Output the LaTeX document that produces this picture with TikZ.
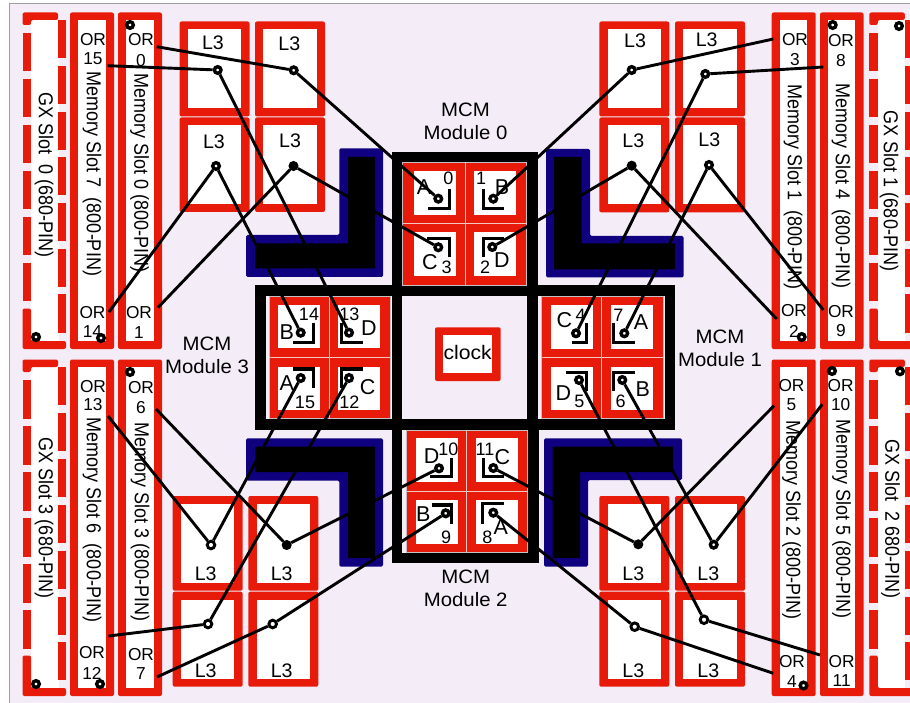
\documentclass[tikz,border=0pt]{standalone}
\usepackage{fontspec}
\usepackage{graphicx}
\setmainfont{Liberation Sans}
\definecolor{slotred}{HTML}{E81A0A}
\definecolor{lshape}{HTML}{0F007F}
\definecolor{pagebg}{HTML}{F4EDF8}
\definecolor{rim}{HTML}{C4C0C4}
\definecolor{sep}{HTML}{F0C8C0}
\newcommand\fsz[1]{\fontsize{#1}{#1}\selectfont}
\newcommand\sxx[2]{\scalebox{#1}[1]{#2}}
\newcommand\vtxt[1]{\scalebox{1}[1.12]{#1}}
\tikzset{
  orlab/.style={inner sep=0pt,font=\fsz{17.3}},
  lthree/.style={inner sep=0pt,font=\fsz{19.6}},
  modlab/.style={inner sep=0pt,font=\fsz{19.4}},
  chipletter/.style={inner sep=0pt,font=\fsz{21.5}},
  chipnum/.style={inner sep=0pt,font=\fsz{18}},
  slotlab/.style={inner sep=0pt,rotate=-90,font=\fsz{18}},
  ring/.style={circle,draw=black,fill=white,line width=3.4pt,minimum size=6.6pt,inner sep=0pt},
  ringb/.style={circle,draw=black,fill=white,line width=2.9pt,minimum size=7.6pt,inner sep=0pt},
  solid dot/.style={circle,draw=black,fill=black,line width=1pt,minimum size=9pt,inner sep=0pt},
  wire/.style={draw=black,line width=2.9pt},
  bracket/.style={draw=black,line width=3.4pt,miter limit=10},
  frame/.style={draw=black,line width=10.6pt},
  redfill/.style={fill=slotred,rounded corners=2pt},
  whitefill/.style={fill=white},
}
\newcommand\redbox[6]{%
  \fill[redfill] (#1,#2) rectangle (#3,#4);
  \fill[whitefill] (#1+#5,#2+#6) rectangle (#3-#5,#4-#6);
}
% dashed GX slot, origin = outer top-left
\newcommand\gxslot[2]{%
  \begin{scope}[shift={(#1,#2)}]
    \fill[whitefill] (8.5,7.5) rectangle (36,328.5);
    \fill[redfill] (0,0) -- (35.5,0) -- (35.5,7.5) -- (8.5,7.5) -- (8.5,12.5) -- (0,12.5) -- cycle;
    \foreach \a in {20.5,66.5,112.5,158.5,204.5,250.5}
      \fill[slotred] (0,\a) rectangle (8.5,\a+38.5);
    \fill[redfill] (0,296) -- (8.5,296) -- (8.5,328.5) -- (43.5,328.5) -- (43.5,336.5) -- (0,336.5) -- cycle;
    \foreach \a in {7.5,53.5,99.5,145,191,237,282}
      \fill[slotred] (35.5,\a) rectangle (43.5,\a+38);
  \end{scope}
}
\begin{document}
\begin{tikzpicture}[x=1pt,y=-1pt]
\useasboundingbox (0,0) rectangle (910,703);
\begin{scope}
\clip (0,0) rectangle (910,703);
% page
\fill[pagebg] (9.3,4) rectangle (911,704);
\draw[gray!75,line width=1pt] (9.3,704) -- (9.3,4) -- (911,4);
% GX slots
\gxslot{22.5}{12.5}
\gxslot{22.5}{359.5}
\gxslot{869.3}{12.5}
\gxslot{869.3}{359.5}
% memory slots
\foreach \xa/\xb in {70/114,118/162,771.7/815.7,820/863.5}{
  \redbox{\xa}{12.5}{\xb}{349}{8.4}{7.8}
  \redbox{\xa}{359.5}{\xb}{696}{8.4}{7.8}
}
% L3 boxes
\foreach \xa/\xb/\ya/\yb in {
  179.5/249.5/21.5/116.5, 179.5/249.5/117.5/212,
  255/325/21.5/116.5, 255/325/117.5/212,
  599.3/669.3/21.5/116.5, 599.3/669.3/117.5/212.3,
  675/745/21.5/116.5, 675/745/117.5/212.3,
  172.7/242.7/496/590.7, 172.7/242.7/591.7/686.7,
  248.3/318.3/496/590.7, 248.3/318.3/591.7/686.7,
  599.3/669.3/496/590.7, 599.3/669.3/591.7/686.7,
  675/745/496/590.7, 675/745/591.7/686.7}{
  \redbox{\xa}{\ya}{\xb}{\yb}{8.3}{8}
}
% L shapes
\fill[lshape,rounded corners=1.5pt] (339.3,148.3) -- (383,148.3) -- (383,277) -- (246,277) -- (246,235) -- (339.3,235) -- cycle;
\fill[black] (348,157) -- (375,157) -- (375,268.5) -- (255,268.5) -- (255,243.3) -- (348,243.3) -- cycle;
\fill[lshape,rounded corners=1.5pt] (546,149) -- (590,149) -- (590,236) -- (683.5,236) -- (683.5,277.5) -- (546,277.5) -- cycle;
\fill[black] (554,157) -- (581.7,157) -- (581.7,243.3) -- (675,243.3) -- (675,269.3) -- (554,269.3) -- cycle;
\fill[lshape,rounded corners=1.5pt] (544,438.3) -- (682,438.3) -- (682,480) -- (588,480) -- (588,566.7) -- (544,566.7) -- cycle;
\fill[black] (552.7,446.7) -- (673,446.7) -- (673,472) -- (580,472) -- (580,558) -- (552.7,558) -- cycle;
\fill[lshape,rounded corners=1.5pt] (246,438.3) -- (383,438.3) -- (383,566.7) -- (339.3,566.7) -- (339.3,480.5) -- (246,480.5) -- cycle;
\fill[black] (255,446.7) -- (375,446.7) -- (375,558) -- (348,558) -- (348,472) -- (255,472) -- cycle;
% MCM frames
\draw[frame] (397,157) rectangle (532.7,290.8);
\draw[frame] (260.6,290.8) rectangle (397,424.5);
\draw[frame] (532.7,290.8) rectangle (670,424.5);
\draw[frame] (397,424.5) rectangle (533.7,557.8);
% chip fields
\foreach \xa/\xs/\xb/\ya/\ys/\yb in {
  402.7/465.7/526.7/162.3/223.3/285,
  269.3/329/390/296.7/357.3/418,
  541.7/601.7/663/296.7/357.3/418.3,
  406.7/466.7/527.7/430/491/552}{
  \fill[slotred] (\xa,\ya) rectangle (\xb,\yb);
  \draw[rim,line width=.8pt] (\xa,\ya) rectangle (\xb,\yb);
  \draw[sep,line width=.8pt] (\xs,\ya) -- (\xs,\yb) (\xa,\ys) -- (\xb,\ys);
}
\foreach \xa/\xb/\ya/\yb in {
  414.3/456/171/215, 474.3/516/171/215, 414.3/456/232.3/276, 474.3/516/232.3/276,
  278.3/320/305/348.3, 338.3/380/305/348.3, 278.3/320/366.7/410, 338.3/380/366.7/410,
  551/592.7/305/349, 611/652.7/305/349, 551/592.7/366.7/410, 611/652.7/366.7/410,
  416/457.7/438.3/482.3, 476/517.7/438.3/482.3, 416/457.7/500/544, 476/517.7/500/544}{
  \fill[whitefill] (\xa,\ya) rectangle (\xb,\yb);
}
% clock
\redbox{435}{327.3}{500.7}{381}{8.3}{7.7}
\node[inner sep=0pt,font=\fsz{19.6}] (clocklab) at (467.7,352.7) {\sxx{1.08}{clock}};
% module captions
\foreach \n/\x/\ya/\yb/\t in {a/465.5/110/133/0, b/720/337/360/1, c/465.7/577/600/2, d/207/344/367/3}{
  \node[modlab] (mcm\n) at (\x,\ya) {\sxx{1.05}{MCM}};
  \node[modlab] (mod\n) at (\x,\yb) {\sxx{1.05}{Module \t}};
}
% slot captions
\node[slotlab] (gxa) at (44,175) {\vtxt{GX Slot\ \ 0 (680-PIN)}};
\node[slotlab] (gxb) at (889,191) {\vtxt{GX Slot 1 (680-PIN)}};
\node[slotlab] (gxc) at (890.7,519) {\vtxt{GX Slot\ \ 2 680-PIN)}};
\node[slotlab] (gxd) at (44,518) {\vtxt{GX Slot 3 (680-PIN)}};
\node[slotlab] (ma) at (139.5,173) {\vtxt{Memory Slot 0 (800-PIN)}};
\node[slotlab] (mb) at (793,187) {\vtxt{Memory Slot 1\ \ (800-PIN)}};
\node[slotlab] (mc) at (791.7,520) {\vtxt{Memory Slot 2 (800-PIN)}};
\node[slotlab] (md) at (140,522) {\vtxt{Memory Slot 3 (800-PIN)}};
\node[slotlab] (me) at (841,186) {\vtxt{Memory Slot 4\ \ (800-PIN)}};
\node[slotlab] (mf) at (841.7,519) {\vtxt{Memory Slot 5 (800-PIN)}};
\node[slotlab] (mg) at (92,520) {\vtxt{Memory Slot 6\ \ (800-PIN)}};
\node[slotlab] (mh) at (92,174) {\vtxt{Memory Slot 7\ \ (800-PIN)}};
% OR labels
\foreach \n/\x/\ya/\yb/\t in {
  s0/141/40/61/0, s1/139/313/333/1, s2/794/311/331/2, s3/795/39.3/60/3,
  s4/792/661.7/681.7/4, s5/791.5/385.7/405/5, s6/141/388/408/6, s7/141/655/674/7,
  s8/841/41/61/8, s9/841/312/331/9, s10/840.7/385.7/405/10, s11/841.7/661.7/681/11,
  s12/92/653/673/12, s13/93/386.7/405/13, s14/92.5/312.7/332/14, s15/93/40/59/15}{
  \node[orlab] (or\n) at (\x,\ya) {OR};
  \node[orlab] (num\n) at (\x,\yb) {\t};
}
% L3 labels
\foreach \n/\x/\y in {
  a/213/43, b/289.3/44, c/214/142, d/290/141,
  e/635/41, f/706.7/40, g/633.3/140.7, h/709.3/140,
  i/633.3/574, j/708.3/574, k/633.3/670.7, l/708.3/670.7,
  m/205.7/574, n/281.7/574, o/205.7/670.7, p/281.7/670.7}{
  \node[lthree] (lab\n) at (\x,\y) {L3};
}
% chip letters
\foreach \n/\x/\y/\t in {
  a0/424/186.7/A, a1/502/187/B, a2/430/261.7/C, a3/502/260/D,
  b0/286.7/331.7/B, b1/369/327.7/D, b2/286.7/383/A, b3/367.7/387/C,
  c0/564.3/320/C, c1/641/321.7/A, c2/563.3/393.3/D, c3/642.7/389.3/B,
  d0/431.7/455.7/D, d1/502.3/456.7/C, d2/423.3/514/B, d3/500.7/527.3/A}{
  \node[chipletter] (let\n) at (\x,\y) {\t};
}
% chip numbers
\foreach \x/\y/\t in {
  448.3/178/0, 481/178/1, 485/267.7/2, 446.7/267.7/3,
  580.7/315/4, 579.3/401.7/5, 620.7/401.7/6, 618.3/315/7,
  487.3/537.3/8, 446/537.3/9, 448.3/449.3/10, 485/449.3/11,
  349.3/402/12, 349.3/314/13, 309/314/14, 305/402/15}{
  \node[chipnum] (cn\t) at (\x,\y) {\t};
}
% brackets
\foreach \xa/\xb/\ya/\yb in {
  428/449.3/208.3/189.3, 504/483.3/208.3/189.3, 427.3/449.3/238.3/257.3, 504/483.3/238.3/257.3,
  292.7/313.3/342.3/323.3, 362.7/341.7/342.3/323.3, 293/313.3/369/388, 362.7/341.7/369/388,
  571.7/586.7/342.3/323.3, 635/613.3/342.3/323.3, 566/586.7/372.7/391, 635/613.3/372.7/391,
  430/451.7/476.7/457.7, 504/483.3/476.7/457.7, 431.7/451.7/505/524.3, 504/482.7/503.3/524}{
  \draw[bracket] (\xa,\ya) -- (\xb,\ya) -- (\xb,\yb);
}
% corner dots
\foreach \n/\x/\y in {g0/36/337,m7/101/338,m0/130/25,g3/36/684,m6/100/684,m3/130/372,
  m1/801.7/337,m4/832.7/25,g1/899/26,g2/900/371.3,m5/832/371,m2/803.5/685.5}{
  \node[ring] (corner\n) at (\x,\y) {};
}
% chip dots
\foreach \n/\x/\y in {
  0/438.3/198.7, 1/493.3/198.7, 2/492.3/247, 3/438.3/247.3,
  4/576/333.3, 5/579/380, 6/622.3/380, 7/624.3/333.3,
  8/493.3/512.7, 9/445.7/513.3, 10/439/468.3, 11/493.3/468,
  12/349/378, 13/349/332.7, 14/300.7/332.7, 15/300.7/378}{
  \node[ring] (cpu\n) at (\x,\y) {};
}
% L3 dots
\node[ring] (la) at (217.7,70) {};
\node[ring] (lb) at (293.7,70.3) {};
\node[ring] (lc) at (216,166) {};
\node[solid dot] (ld) at (293.5,166) {};
\node[ring] (le) at (631.7,70) {};
\node[ring] (lf) at (705.3,74) {};
\node[solid dot] (lg) at (631.7,165.7) {};
\node[ring] (lh) at (709,165) {};
\node[solid dot] (li) at (638.3,544.3) {};
\node[ring] (lj) at (713.7,544.7) {};
\node[ringb] (lk) at (704,619.7) {};
\node[ringb] (ll) at (634.7,626.7) {};
\node[ringb] (lm) at (211,545) {};
\node[solid dot] (ln) at (286.7,545) {};
\node[ringb] (lo) at (208,624) {};
\node[ringb] (lp) at (272.7,624) {};
% free connector ends at the OR labels
\foreach \n/\x/\y in {
  0/156.7/46.7, 1/158/307.5, 2/776.7/319, 3/773.3/39, 4/773.3/673.3, 5/774/405.7,
  6/156/409, 7/157/677, 8/823.3/67, 9/823.3/310, 10/822.3/404.3, 11/820/655,
  12/108.5/636, 13/108/416, 14/109/312, 15/107.7/65.7}{
  \coordinate (end\n) at (\x,\y);
}
% connectors
\draw[wire] (end0) -- (lb);  \draw[wire] (lb) -- (cpu0);
\draw[wire] (end1) -- (ld);  \draw[wire] (ld) -- (cpu3);
\draw[wire] (end2) -- (lg);  \draw[wire] (lg) -- (cpu2);
\draw[wire] (end3) -- (le);  \draw[wire] (le) -- (cpu1);
\draw[wire] (end4) -- (ll);  \draw[wire] (ll) -- (cpu8);
\draw[wire] (end5) -- (li);  \draw[wire] (li) -- (cpu11);
\draw[wire] (end6) -- (ln);  \draw[wire] (ln) -- (cpu10);
\draw[wire] (end7) -- (lp);  \draw[wire] (lp) -- (cpu9);
\draw[wire] (end8) -- (lf);  \draw[wire] (lf) -- (cpu4);
\draw[wire] (end9) -- (lh);  \draw[wire] (lh) -- (cpu7);
\draw[wire] (end10) -- (lj); \draw[wire] (lj) -- (cpu6);
\draw[wire] (end11) -- (lk); \draw[wire] (lk) -- (cpu5);
\draw[wire] (end12) -- (lo); \draw[wire] (lo) -- (cpu12);
\draw[wire] (end13) -- (lm); \draw[wire] (lm) -- (cpu15);
\draw[wire] (end14) -- (lc); \draw[wire] (lc) -- (cpu14);
\draw[wire] (end15) -- (la); \draw[wire] (la) -- (cpu13);
\end{scope}
\end{tikzpicture}
\end{document}
